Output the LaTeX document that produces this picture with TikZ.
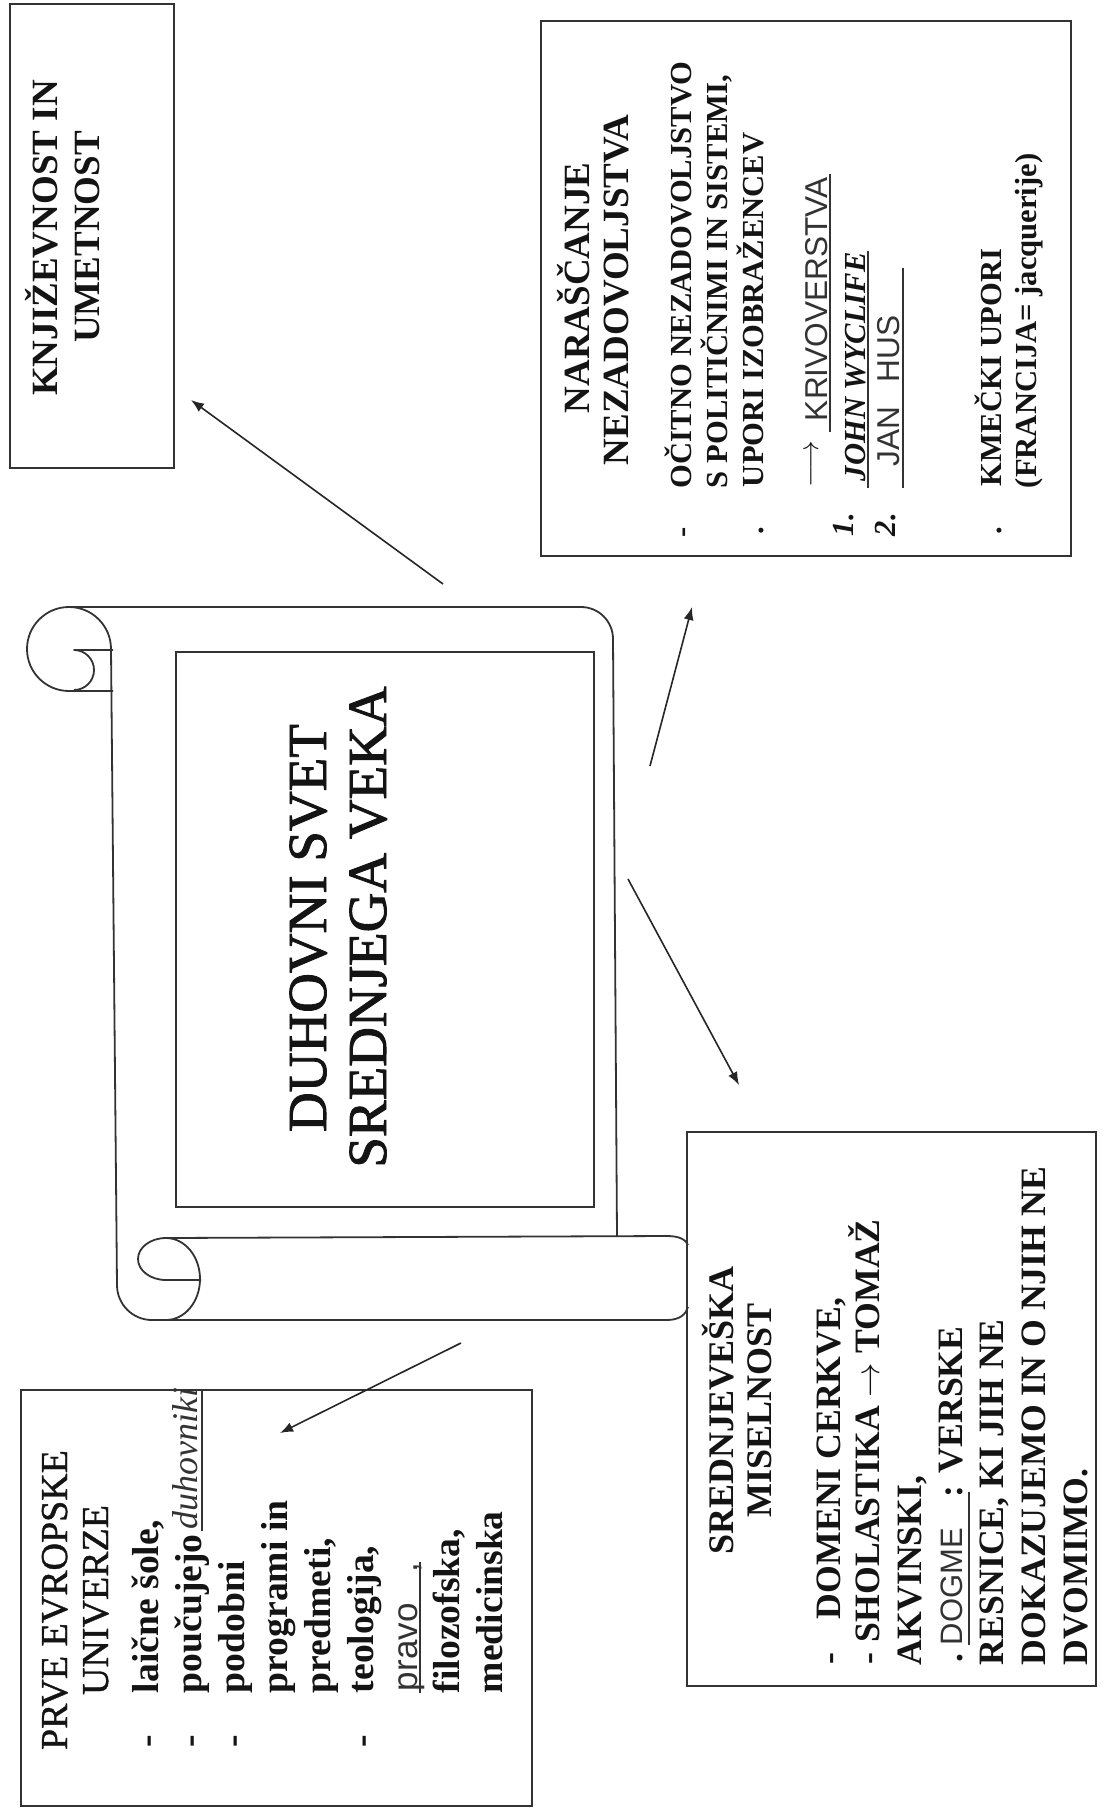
\documentclass[tikz,border=0pt]{standalone}
\usepackage{fontspec}
\setmainfont{Liberation Serif}
\newfontfamily\handfont{Liberation Sans}
\newfontfamily\heavyfont[FakeBold=1.6]{Liberation Serif}
\newfontfamily\semifont[FakeBold=1.0]{Liberation Serif}
\usetikzlibrary{arrows.meta}
\newcommand{\fsz}[1]{\fontsize{#1}{#1}\selectfont}
\begin{document}
\begin{tikzpicture}[x=0.5pt,y=0.5pt,
  box/.style={draw=black!80, line width=1pt, inner sep=0pt, outer sep=0pt},
  txt/.style={rotate=90, inner sep=0pt, outer sep=0pt, text=black!92},
  ttl/.style={txt, anchor=base, font=\bfseries\fsz{18.5pt}},
  nitem/.style={txt, anchor=base west, font=\bfseries\fsz{15.3pt}},
  nital/.style={txt, anchor=base west, font=\bfseries\itshape\fsz{15.3pt}},
  sitem/.style={txt, anchor=base west, font=\bfseries\fsz{17.85pt}},
  pitem/.style={txt, anchor=base west, font=\bfseries\fsz{18.8pt}},
  hand/.style={txt, anchor=base west, font=\handfont\fsz{15.8pt}, text=black!80},
  scroll/.style={draw=black!80, line width=0.9pt, line join=round},
  ul/.style={draw=black!80, line width=0.7pt},
  arr/.style={draw=black!85, line width=0.8pt, -{Latex[length=6.5pt,width=5pt]}}
]
\fill[white] (0,0) rectangle (1112,-1820);
\useasboundingbox (0,0) rectangle (1112,-1820);

% ---------- scroll ----------
\draw[scroll] (69,-607) -- (581,-607) arc[start angle=90, end angle=0, radius=32] -- (617,-1236);
\draw[scroll] (111,-649) arc[start angle=0, end angle=270, radius=42] -- (113,-691);
\draw[scroll] (113,-650) -- (74,-650) arc[start angle=90, end angle=-90, radius=20];
\draw[scroll] (111,-649) -- (117,-1285) arc[start angle=180, end angle=270, radius=35] -- (667,-1320)
   .. controls (680,-1320) and (686,-1314) .. (688,-1307);
\draw[scroll] (166,-1238) -- (667,-1236) .. controls (680,-1236) and (686,-1240) .. (688,-1245);
\draw[scroll] (166,-1238) arc[start angle=90, end angle=-90, x radius=34, y radius=41];
\draw[scroll] (166,-1238) arc[start angle=90, end angle=270, x radius=28, y radius=21] -- (201,-1280);
\node[box, minimum width=209pt, minimum height=277.5pt] (inner) at (385,-929.5) {};
\node[txt, anchor=base, font=\heavyfont\fsz{27.5pt}] (d1) at (326,-928) {DUHOVNI SVET};
\node[txt, anchor=base, font=\heavyfont\fsz{27.5pt}] (d2) at (386,-927) {SREDNJEGA VEKA};

% ---------- box K ----------
\node[box, minimum width=82pt, minimum height=232pt] (K) at (92,-236) {};
\node[ttl] (k1) at (57,-238) {KNJIŽEVNOST IN};
\node[ttl] (k2) at (99,-237) {UMETNOST};

% ---------- box N ----------
\node[box, minimum width=265pt, minimum height=267.5pt] (N) at (806,-288.5) {};
\node[ttl] (n1) at (589,-288) {NARAŠČANJE};
\node[ttl] (n2) at (628,-290) {NEZADOVOLJSTVA};
\node[nitem] (nb1) at (691,-537) {-};
\node[nitem] (n3) at (691,-488) {OČITNO NEZADOVOLJSTVO};
\node[nitem] (n4) at (727,-488) {S POLITIČNIMI IN SISTEMI,};
\node[nitem] (nb2) at (763,-534) {.};
\node[nitem] (n5) at (763,-487) {UPORI IZOBRAŽENCEV};
\node[nitem] (n6) at (818,-487) {$\longrightarrow$};
\node[hand] (n7) at (827,-421) {KRIVOVERSTVA};
\draw[ul] (830,-174) -- (830,-432);
\node[nital] (nb3) at (853,-536) {1.};
\node[nital] (n8) at (865,-481) {JOHN WYCLIFE};
\draw[ul] (868,-251) -- (868,-488);
\node[nital] (nb4) at (895,-536) {2.};
\node[hand] (n9) at (899,-466) {JAN\hspace{12pt}HUS};
\draw[ul] (903,-268) -- (903,-488);
\node[nitem] (nb5) at (1001,-534) {.};
\node[nitem] (n10) at (1001,-486) {KMEČKI UPORI};
\node[nitem] (n11) at (1036,-488) {(FRANCIJA= jacquerije)};

% ---------- box S ----------
\node[box, minimum width=204.5pt, minimum height=277pt] (S) at (891.5,-1409) {};
\node[ttl, font=\bfseries\fsz{18pt}] (s1) at (733,-1410) {SREDNJEVEŠKA};
\node[ttl, font=\bfseries\fsz{18pt}] (s2) at (771,-1410) {MISELNOST};
\node[sitem] (sb1) at (840,-1664) {-};
\node[sitem] (s3) at (840,-1619) {DOMENI CERKVE,};
\node[sitem] (sb2) at (879,-1664) {-};
\node[sitem] (s4) at (879,-1642) {SHOLASTIKA $\rightarrow$ TOMAŽ};
\node[sitem] (s5) at (921,-1665) {AKVINSKI,};
\node[sitem] (sb3) at (962,-1662) {.};
\node[hand, font=\handfont\fsz{15.5pt}] (s6) at (962,-1645) {DOGME};
\draw[ul] (969,-1492) -- (969,-1645);
\node[sitem] (s7) at (962,-1497) {: VERSKE};
\node[sitem] (s8) at (1003,-1665) {RESNICE, KI JIH NE};
\node[sitem] (s9) at (1045,-1665) {DOKAZUJEMO IN O NJIH NE};
\node[sitem] (s10) at (1087,-1665) {DVOMIMO.};

% ---------- box P ----------
\node[box, minimum width=255.5pt, minimum height=208pt] (P) at (276.5,-1598) {};
\node[txt, anchor=base, font=\semifont\fsz{19pt}] (p1) at (67,-1600) {PRVE EVROPSKE};
\node[txt, anchor=base, font=\semifont\fsz{19pt}] (p2) at (108,-1600) {UNIVERZE};
\node[pitem] (pb1) at (158,-1747) {-};
\node[pitem] (p3) at (158,-1693) {laične šole,};
\node[pitem] (pb2) at (201,-1747) {-};
\node[pitem] (p4) at (201,-1693) {poučujejo};
\node[txt, anchor=base west, font=\itshape\fsz{18pt}, text=black!80] (p5) at (197,-1529) {duhovniki};
\draw[ul] (202,-1390) -- (202,-1531);
\node[pitem] (pb3) at (244,-1747) {-};
\node[pitem] (p6) at (244,-1693) {podobni};
\node[pitem] (p7) at (287,-1693) {programi in};
\node[pitem] (p8) at (330,-1693) {predmeti,};
\node[pitem] (pb4) at (373,-1747) {-};
\node[pitem] (p9) at (373,-1693) {teologija,};
\node[hand, font=\handfont\fsz{17.5pt}] (p10) at (417,-1691) {pravo};
\draw[ul] (420,-1562) -- (420,-1693);
\node[hand, font=\handfont\fsz{17.5pt}] (p11) at (417,-1572) {,};
\node[pitem] (p12) at (459,-1693) {filozofska,};
\node[pitem] (p13) at (502,-1693) {medicinska};

% ---------- arrows ----------
\coordinate (aK1) at (443,-584); \coordinate (aK2) at (191,-400);
\coordinate (aN1) at (650,-766); \coordinate (aN2) at (692,-607);
\coordinate (aS1) at (628,-879); \coordinate (aS2) at (739,-1085);
\coordinate (aP1) at (461,-1343); \coordinate (aP2) at (280,-1433);
\draw[arr] (aK1) -- (aK2);
\draw[arr] (aN1) -- (aN2);
\draw[arr] (aS1) -- (aS2);
\draw[arr] (aP1) -- (aP2);
\end{tikzpicture}
\end{document}
